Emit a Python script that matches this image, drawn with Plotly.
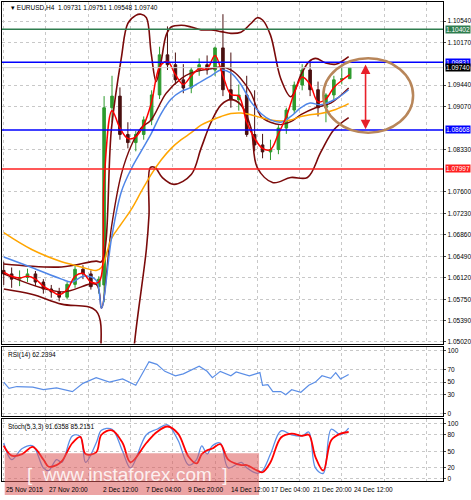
import plotly.graph_objects as go

# ---- data (bar index on H4 timeframe, prices) ----
bar_idx = [0, 3, 6, 9, 12, 15, 18, 21, 24, 27, 30, 33, 36, 38, 41, 44, 47, 50, 53, 56,
           59, 62, 65, 68, 71, 74, 77, 80, 83, 86, 89, 92, 95, 98, 101, 104, 107, 110,
           113, 116, 119, 122, 125, 128, 131]
opens = [1.0625, 1.0619, 1.0610, 1.0613, 1.0619, 1.0605, 1.0593, 1.0588, 1.0579, 1.0601,
         1.0627, 1.0619, 1.0597, 1.0600, 1.0905, 1.0925, 1.0859, 1.0845, 1.0859, 1.0884,
         1.0927, 1.0996, 1.0979, 1.0953, 1.0939, 1.0970, 1.0979, 1.0970, 1.1008, 1.0936,
         1.0919, 1.0927, 1.0859, 1.0841, 1.0829, 1.0833, 1.0870, 1.0901, 1.0944, 1.0970,
         1.0936, 1.0905, 1.0927, 1.0953, 1.0955]
highs = [1.0640, 1.0630, 1.0625, 1.0628, 1.0624, 1.0610, 1.0600, 1.0595, 1.0605, 1.0635,
         1.0634, 1.0625, 1.0615, 1.0925, 1.0960, 1.0940, 1.0880, 1.0865, 1.0890, 1.0935,
         1.1010, 1.1045, 1.1000, 1.0980, 1.0975, 1.0990, 1.0995, 1.1010, 1.1066, 1.1000,
         1.0945, 1.0960, 1.0935, 1.0860, 1.0850, 1.0875, 1.0905, 1.0950, 1.0980, 1.0985,
         1.0950, 1.0930, 1.0960, 1.0975, 1.0975]
lows = [1.0600, 1.0595, 1.0598, 1.0605, 1.0598, 1.0585, 1.0578, 1.0572, 1.0575, 1.0595,
        1.0610, 1.0592, 1.0585, 1.0570, 1.0880, 1.0850, 1.0835, 1.0830, 1.0850, 1.0875,
        1.0920, 1.0970, 1.0945, 1.0930, 1.0930, 1.0960, 1.0962, 1.0960, 1.0925, 1.0905,
        1.0900, 1.0855, 1.0830, 1.0818, 1.0815, 1.0825, 1.0860, 1.0895, 1.0935, 1.0925,
        1.0890, 1.0880, 1.0918, 1.0945, 1.0955]
closes = [1.0619, 1.0610, 1.0613, 1.0619, 1.0605, 1.0593, 1.0588, 1.0579, 1.0601, 1.0627,
          1.0619, 1.0597, 1.0610, 1.0905, 1.0925, 1.0859, 1.0845, 1.0859, 1.0884, 1.0927,
          1.0996, 1.0979, 1.0953, 1.0939, 1.0970, 1.0979, 1.0970, 1.1008, 1.0936, 1.0919,
          1.0927, 1.0859, 1.0841, 1.0829, 1.0833, 1.0870, 1.0901, 1.0944, 1.0970, 1.0936,
          1.0905, 1.0927, 1.0953, 1.0955, 1.0974]
fast_ma = [1.0622, 1.0615, 1.0612, 1.0615, 1.0610, 1.0598, 1.0590, 1.0583, 1.0592, 1.0615,
           1.0620, 1.0605, 1.0605, 1.0780, 1.0900, 1.0870, 1.0852, 1.0855, 1.0875, 1.0915,
           1.0975, 1.0985, 1.0962, 1.0945, 1.0960, 1.0972, 1.0972, 1.0995, 1.0960, 1.0928,
           1.0925, 1.0880, 1.0852, 1.0835, 1.0833, 1.0860, 1.0890, 1.0930, 1.0958, 1.0945,
           1.0915, 1.0920, 1.0940, 1.0952, 1.0962]

bb_up_x = [0, 21.9, 35, 37, 40.8, 44.5, 47, 50, 52, 54, 55.8, 57.7, 59.6, 61.5, 63.4, 67.2,
           71, 74.7, 78.5, 82.3, 86, 89.8, 93.6, 96, 98, 101, 104.9, 108.7, 112.5, 115.5,
           118.1, 121.9, 125.7, 130.6]
bb_up = [1.0636, 1.0631, 1.0641, 1.0640, 1.0870, 1.0990, 1.1050, 1.1064, 1.1066, 1.1060,
         1.1000, 1.0950, 1.0985, 1.1030, 1.1044, 1.1047, 1.1044, 1.1039, 1.1039, 1.1036,
         1.1033, 1.1035, 1.1050, 1.1060, 1.1056, 1.1030, 1.0955, 1.0924, 1.0961, 1.0984,
         1.0990, 1.0982, 1.0980, 1.0993]
bb_lo_x = [0, 10.6, 21.9, 35, 37, 42, 48, 49.5, 54, 55, 55.5, 57.3, 60, 64.5, 71, 74.7,
           78.5, 82.3, 86, 89.8, 93.6, 96, 102, 108.7, 115, 120, 125, 130.6]
bb_lo = [1.0593, 1.0584, 1.0567, 1.0555, 1.0450, 1.0350, 1.0400, 1.0499, 1.0661, 1.0720,
         1.0802, 1.0802, 1.0785, 1.0773, 1.0790, 1.0835, 1.0880, 1.0910, 1.0919, 1.0910,
         1.0870, 1.0802, 1.0776, 1.0785, 1.0785, 1.0828, 1.0867, 1.0888]
bb_mid_x = [0, 21.9, 35, 37, 40.8, 44.5, 48.3, 52, 55.8, 61.5, 67.2, 71, 78.5, 82.3, 86,
            89.8, 93.6, 97.4, 101, 104.9, 108.7, 112.5, 118.1, 123.8, 130.6]
bb_mid = [1.0619, 1.0588, 1.0601, 1.0560, 1.0700, 1.0790, 1.0840, 1.0870, 1.0884, 1.0930,
          1.0955, 1.0965, 1.0972, 1.0975, 1.0970, 1.0955, 1.0930, 1.0890, 1.0880, 1.0876,
          1.0881, 1.0893, 1.0905, 1.0913, 1.0939]

ma_x = [0, 10.6, 21.9, 26, 30, 35, 37, 40.8, 44.5, 48.3, 52, 55.8, 59.6, 63.4, 67.2, 71,
        74.7, 78.5, 82.3, 86, 89.8, 93.6, 97.4, 101, 104.9, 108.7, 112.5, 116, 120, 125.7, 130.6]
blue_ma = [1.0648, 1.0630, 1.0610, 1.0605, 1.0615, 1.0608, 1.0560, 1.0680, 1.0760, 1.0800,
           1.0830, 1.0860, 1.0895, 1.0920, 1.0933, 1.0940, 1.0950, 1.0960, 1.0970, 1.0965,
           1.0945, 1.0915, 1.0895, 1.0884, 1.0880, 1.0890, 1.0905, 1.0913, 1.0910, 1.0920, 1.0936]
orange_ma = [1.0690, 1.0661, 1.0640, 1.0635, 1.0630, 1.0625, 1.0630, 1.0680, 1.0705, 1.0730,
             1.0760, 1.0790, 1.0815, 1.0835, 1.0850, 1.0862, 1.0875, 1.0883, 1.0890, 1.0895,
             1.0896, 1.0893, 1.0888, 1.0884, 1.0882, 1.0884, 1.0890, 1.0893, 1.0895, 1.0902, 1.0912]

rsi_x = [0, 2, 5, 11, 15, 20, 26, 30, 35, 40, 45, 50, 55, 58, 61, 65, 68, 70, 74, 77, 79,
         82, 86, 88, 93, 97, 98, 100, 101.9, 104.9, 106.8, 109, 112.5, 115.5, 118, 120.5,
         123.8, 125.7, 127.5, 130.6]
rsi = [50, 40, 43, 42, 38, 41, 35, 48, 57, 50, 55, 45, 82, 78, 67, 60, 63, 67, 75, 67, 57,
       67, 60, 66, 60, 65, 45, 46, 35, 35, 30, 38, 34, 45, 50, 60, 56, 65, 55, 62]

st_x = [0, 3, 7, 11, 15, 17, 20, 22, 26, 29, 31, 35, 37, 41, 45, 48, 54, 58, 62, 66, 70,
        73, 75, 77, 79, 82, 85, 90, 92, 96, 98, 101, 105, 109, 113, 115.5, 118, 121, 124,
        127.5, 130.6]
stoch_main = [65, 35, 55, 60, 20, 15, 35, 30, 78, 77, 30, 65, 88, 90, 50, 20, 80, 90, 98,
              70, 25, 35, 60, 45, 60, 65, 20, 30, 20, 10, 15, 45, 87, 80, 78, 85, 20, 10,
              90, 80, 92]
stoch_sig = [60, 42, 45, 58, 35, 22, 25, 32, 65, 76, 45, 48, 80, 88, 65, 30, 65, 85, 95,
             82, 40, 28, 45, 52, 55, 63, 35, 25, 25, 15, 12, 30, 75, 82, 78, 80, 40, 15,
             70, 82, 85]

price_ticks = [1.10540, 1.10170, 1.09440, 1.09070, 1.08330, 1.07600, 1.07230, 1.06860,
               1.06490, 1.06120, 1.05750, 1.05390, 1.05020]
levels = [(1.10402, "#2e7d4f"), (1.09831, "#0000ff"), (1.08668, "#0000ff"), (1.07997, "#ff2020")]
time_pos = [0, 16.2, 37, 53.2, 69, 85.3, 100.4, 116.2, 132]
time_labels = ["25 Nov 2015", "27 Nov 20:00", "2 Dec 12:00", "7 Dec 04:00", "9 Dec 20:00",
               "14 Dec 12:00", "17 Dec 04:00", "21 Dec 20:00", "24 Dec 12:00"]

XR = [-0.7, 166.4]
XD = [0.004, 0.941]
grid = dict(showgrid=True, gridcolor="#c8c8c8", griddash="dot", gridwidth=1)
lbl_font = dict(size=6.5, family="Arial", color="black")
fig = go.Figure()

fig.add_trace(go.Candlestick(x=bar_idx, open=opens, high=highs, low=lows, close=closes,
                             increasing=dict(line=dict(color="#2e9b2e", width=1), fillcolor="#2e9b2e"),
                             decreasing=dict(line=dict(color="#4a1010", width=1), fillcolor="#4a1010"),
                             whiskerwidth=0, xaxis="x", yaxis="y"))
for xs, ys, col, w in [(bb_up_x, bb_up, "#7a0a0a", 1.6), (bb_lo_x, bb_lo, "#7a0a0a", 1.6),
                       (bb_mid_x, bb_mid, "#7a0a0a", 1.4), (ma_x, orange_ma, "#ffa500", 1.5),
                       (ma_x, blue_ma, "#4f86e8", 1.5), (bar_idx, fast_ma, "#ff0000", 1.5)]:
    fig.add_trace(go.Scatter(x=xs, y=ys, mode="lines", line=dict(color=col, width=w, shape="spline"),
                             xaxis="x", yaxis="y", hoverinfo="skip"))
fig.add_trace(go.Scatter(x=rsi_x, y=rsi, mode="lines", line=dict(color="#5b8ee6", width=1.2),
                         xaxis="x2", yaxis="y2"))
fig.add_trace(go.Scatter(x=st_x, y=stoch_main, mode="lines", line=dict(color="#5b8ee6", width=1.3, shape="spline"),
                         xaxis="x3", yaxis="y3"))
fig.add_trace(go.Scatter(x=st_x, y=stoch_sig, mode="lines", line=dict(color="#ff0000", width=1.8, shape="spline"),
                         xaxis="x3", yaxis="y3"))

shapes, annots = [], []
for lv, col in levels:
    shapes.append(dict(type="line", xref="x", yref="y", x0=XR[0], x1=XR[1], y0=lv, y1=lv,
                       line=dict(color=col, width=1.5)))
    annots.append(dict(xref="paper", yref="y", x=XD[1] + 0.004, y=lv, text=f"{lv:.5f}", showarrow=False,
                       xanchor="left", bgcolor=col, font=dict(color="white", size=6.5, family="Arial"),
                       borderpad=0))
shapes.append(dict(type="line", xref="x", yref="y", x0=XR[0], x1=XR[1], y0=1.0974, y1=1.0974,
                   line=dict(color="#d0d0d0", width=1)))
annots.append(dict(xref="paper", yref="y", x=XD[1] + 0.004, y=1.0974, text="1.09740", showarrow=False,
                   xanchor="left", bgcolor="black", font=dict(color="white", size=6.5, family="Arial"),
                   borderpad=0))
# ellipse and double arrow
shapes.append(dict(type="circle", xref="x", yref="y", x0=121, x1=155, y0=1.0862, y1=1.0990,
                   line=dict(color="#b8865a", width=2.5)))
annots.append(dict(xref="x", yref="y", x=137, y=1.0868, ax=137, ay=1.0982, axref="x", ayref="y",
                   showarrow=True, arrowhead=2, arrowsize=1.2, arrowwidth=1.6, arrowcolor="#e8202a",
                   startarrowhead=2, startarrowsize=1.2, arrowside="end+start", text=""))
# watermark
shapes.append(dict(type="rect", xref="paper", yref="paper", x0=0.01, x1=0.55, y0=0.006, y1=0.09,
                   fillcolor="rgba(220,90,90,0.55)", line=dict(width=0), layer="above"))
annots.append(dict(xref="paper", yref="paper", x=0.27, y=0.048, xanchor="center", yanchor="middle",
                   text="[  www.instaforex.com  ]", showarrow=False,
                   font=dict(color="rgba(255,255,255,0.85)", size=19, family="Arial")))
annots.append(dict(xref="paper", yref="paper", x=0.02, y=0.995, xanchor="left", yanchor="top",
                   text="▾ EURUSD,H4  1.09731 1.09751 1.09548 1.09740", showarrow=False, font=lbl_font))
annots.append(dict(xref="paper", yref="paper", x=0.012, y=0.3, xanchor="left", yanchor="top",
                   text="RSI(14) 62.2394", showarrow=False, font=lbl_font))
annots.append(dict(xref="paper", yref="paper", x=0.012, y=0.155, xanchor="left", yanchor="top",
                   text="Stoch(5,3,3) 91.6358 85.2151", showarrow=False, font=lbl_font))
for p, t in zip(time_pos, time_labels):
    annots.append(dict(xref="x3", yref="paper", x=p, y=0.028, xanchor="left", yanchor="top",
                       text=t, showarrow=False, font=dict(size=6.5, family="Arial", color="black")))

xcommon = dict(range=XR, tickvals=list(range(0, 167, 16)), showticklabels=False, zeroline=False,
               showline=True, mirror=True, linecolor="black", ticks="", **grid)
ycommon = dict(side="right", showline=True, mirror=True, linecolor="black", zeroline=False,
               tickfont=lbl_font, ticks="outside", ticklen=2, ticklabelstandoff=0,
               ticklabeloverflow="allow", **grid)
fig.update_layout(
    width=471, height=500, margin=dict(l=0, r=0, t=0, b=0), paper_bgcolor="white",
    plot_bgcolor="white", showlegend=False, shapes=shapes, annotations=annots,
    xaxis=dict(domain=XD, anchor="y", rangeslider=dict(visible=False), **xcommon),
    yaxis=dict(domain=[0.31, 0.996], range=[1.0499, 1.1087], tickvals=price_ticks,
               tickformat=".5f", anchor="x", **ycommon),
    xaxis2=dict(domain=XD, anchor="y2", **xcommon),
    yaxis2=dict(domain=[0.164, 0.304], range=[-4, 106], tickvals=[0, 30, 50, 70, 100], anchor="x2", **ycommon),
    xaxis3=dict(domain=XD, anchor="y3", **xcommon),
    yaxis3=dict(domain=[0.034, 0.158], range=[-4, 108], tickvals=[0, 20, 50, 80, 100], anchor="x3", **ycommon),
)
fig.write_html("out.html", config={"displayModeBar": False},
               post_script="document.body.style.margin='0';")
